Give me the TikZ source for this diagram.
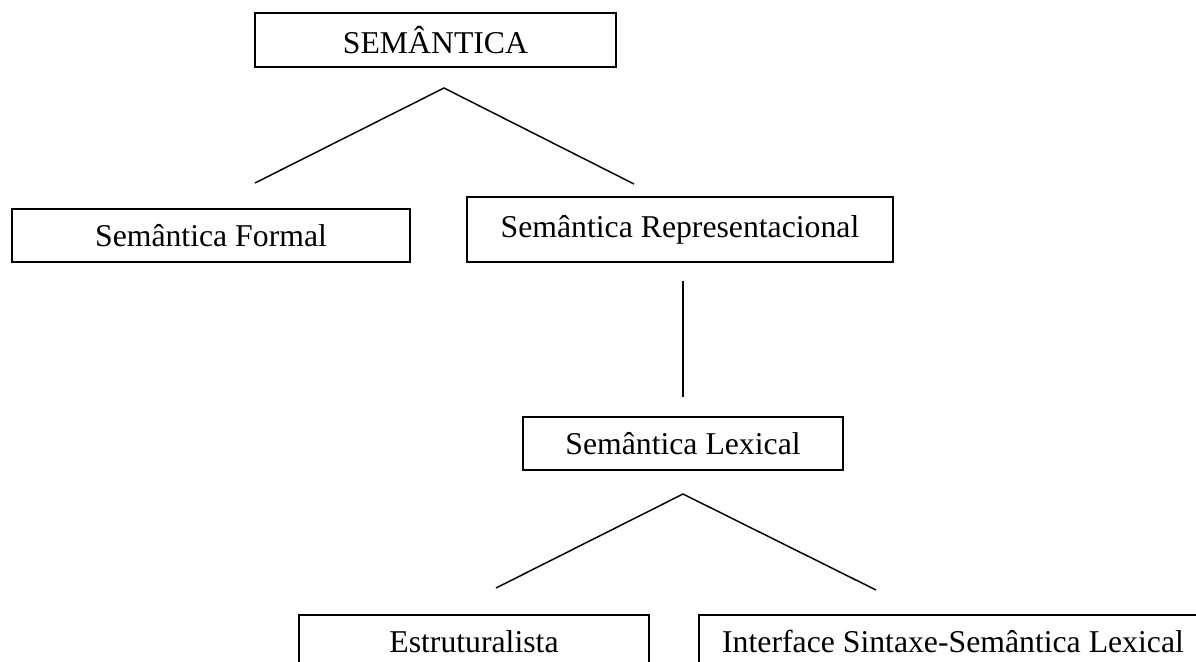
\documentclass[tikz,border=0pt]{standalone}
\usepackage{fontspec}
\setmainfont{Liberation Serif}
\usepackage{tikz}
\usetikzlibrary{positioning}

\tikzset{
	caixa/.style={shape=rectangle,draw,inner sep=0pt,line width=1.1pt,
		font=\fontsize{23.8}{28}\selectfont},
	ramo/.style={line width=1.1pt}
}

\begin{document}
\begin{tikzpicture}[x=0.75pt,y=-0.75pt]
		\useasboundingbox (0,0) rectangle (1196,661);
		\begin{scope}
			% caixas
			\node(sem) [caixa,minimum width=270.75pt,minimum height=40.5pt] at (435.5,40) {SEMÂNTICA};
			\node(formal) [caixa,minimum width=298.5pt,minimum height=39.75pt] at (211,235.5) {Semântica Formal};
			\node(repr) [caixa,minimum width=319.5pt,minimum height=48.75pt] at (680,229.5) {Semântica Representacional};
			\node(lex) [caixa,minimum width=240pt,minimum height=39.75pt] at (683,443.5) {Semântica Lexical};
			\node(estr) [caixa,minimum width=262.5pt,minimum height=39.75pt] at (474,641.5) {Estruturalista};
			\node(iface) [caixa,minimum width=381pt,minimum height=39.75pt] at (953,641.5) {Interface Sintaxe-Semântica Lexical};
			% pontas das linhas
			\coordinate (f1) at (444,88);
			\coordinate (f1a) at (255,183);
			\coordinate (f1b) at (634,184);
			\coordinate (v1) at (683,281);
			\coordinate (v2) at (683,397);
			\coordinate (f2) at (683,494);
			\coordinate (f2a) at (496,588);
			\coordinate (f2b) at (876,590);
			\draw[ramo] (f1a) -- (f1) -- (f1b);
			\draw[ramo] (v1) -- (v2);
			\draw[ramo] (f2a) -- (f2) -- (f2b);
		\end{scope}
	\end{tikzpicture}
\end{document}
